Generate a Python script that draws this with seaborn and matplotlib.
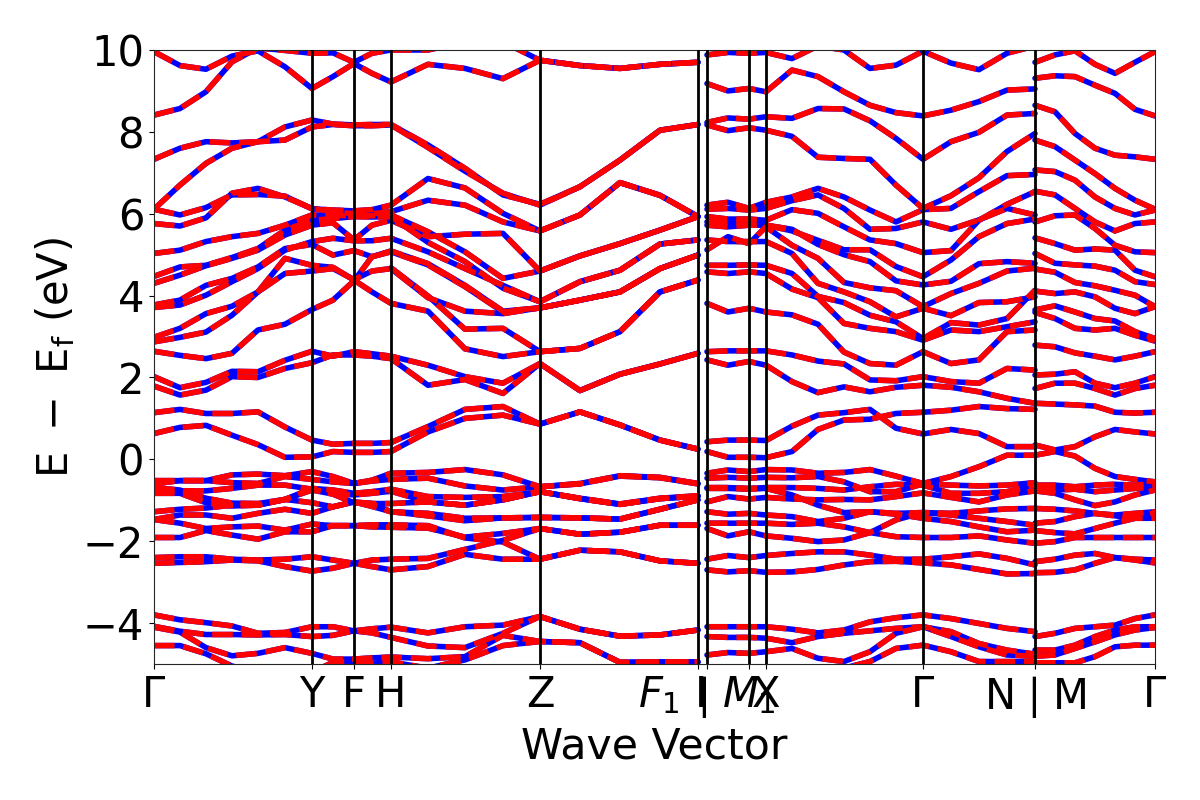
import seaborn as sns
import matplotlib.pyplot as plt
import matplotlib.transforms as mtrans
import pandas as pd

sns.set_style("ticks")
plt.rcParams['font.family'] = ['DejaVu Sans']

# k distance along the path, three broken pieces
k1 = [0,26,52,78,104,131,158,179,200,218,237,274,311,349,386,426,466,506,544]
k2 = [553,574,595,612,638,664,690,716,742,769,797,825,853,881]
k3 = [881,901,921,941,961,981,1001]

tick_pos = [0,158,200,237,386,544,553,595,612,769,881,1001]
tick_names = [r"$\mathrm{\Gamma}$","Y","F","H","Z",r"$F_1$ I",r"$\mid$",r"$M_1$","X",r"$\mathrm{\Gamma}$",r"N$\mid$M",r"$\mathrm{\Gamma}$"]

N = None
bands1 = [
 [-3.80,-3.92,-3.99,-4.07,-4.25,-4.23,-4.09,-4.09,-4.19,-4.14,-4.10,-4.24,-4.09,-4.05,-3.84,-4.15,-4.32,-4.29,-4.17],
 [-4.08,-4.20,-4.28,-4.28,-4.29,-4.28,-4.33,-4.30,-4.19,-4.24,-4.35,-4.56,-4.60,-4.25,-3.84,-4.15,-4.32,-4.29,-4.17],
 [-4.10,-4.22,-4.60,-4.80,-4.74,-4.60,-4.74,-4.88,-4.88,-4.85,-4.83,-4.87,-4.82,-4.30,-4.45,-4.48,-4.96,-4.95,-4.95],
 [-4.55,-4.55,-4.75,-5.05,-5.20,-5.20,-5.20,-4.96,-4.94,-4.98,-4.95,-5.10,-4.90,-4.55,-4.45,-4.48,-4.96,-4.95,-4.95],
 [-2.40,-2.38,-2.38,-2.44,-2.46,-2.44,-2.38,-2.46,-2.54,-2.46,-2.44,-2.42,-2.20,-1.98,-1.69,-1.83,-1.78,-1.61,-1.61],
 [-2.54,-2.52,-2.50,-2.46,-2.48,-2.62,-2.73,-2.66,-2.54,-2.62,-2.70,-2.62,-2.32,-2.44,-2.44,-2.22,-2.26,-2.48,-2.54],
 [-0.52,-0.52,-0.52,-0.38,-0.36,-0.40,-0.30,-0.42,-0.59,-0.51,-0.34,-0.32,-0.25,-0.38,-0.67,-0.59,-0.40,-0.44,-0.59],
 [-0.60,-0.52,-0.52,-0.57,-0.59,-0.42,-0.49,-0.55,-0.59,-0.53,-0.49,-0.46,-0.65,-0.75,-0.67,-0.60,-0.41,-0.45,-0.60],
 [-0.69,-0.75,-0.95,-1.07,-1.08,-0.98,-0.71,-0.75,-0.83,-0.79,-0.73,-0.91,-0.93,-0.91,-0.79,-0.95,-1.09,-0.95,-0.89],
 [-0.77,-0.77,-0.77,-0.71,-0.63,-0.63,-0.73,-0.83,-0.87,-0.83,-0.78,-1.04,-1.12,-0.99,-0.79,-0.96,-1.10,-0.96,-0.90],
 [-0.83,-0.83,-1.06,-1.14,-1.12,-0.98,-1.06,-1.16,-1.04,-1.08,-1.28,-1.32,-1.44,-1.43,-1.42,-1.43,-1.46,-1.22,-0.99],
 [-1.28,-1.22,-1.19,-1.12,-1.12,-0.98,-0.75,-0.85,-1.06,-1.08,-1.08,-1.04,-1.12,-0.99,-0.79,-0.96,-1.10,-0.96,-0.90],
 [-1.47,-1.36,-1.36,-1.44,-1.32,-1.22,-1.32,-1.16,-1.04,-1.15,-1.28,-1.38,-1.50,-1.43,-1.42,-1.43,-1.46,-1.22,-0.99],
 [-1.47,-1.56,-1.69,-1.65,-1.63,-1.73,-1.58,-1.62,-1.62,-1.60,-1.60,-1.62,-1.92,-2.02,-2.44,-2.22,-2.26,-2.48,-2.54],
 [-1.91,-1.91,-1.74,-1.85,-1.95,-1.77,-1.77,-1.62,-1.62,-1.65,-1.66,-1.68,-1.90,-1.81,-1.69,-1.83,-1.78,-1.61,-1.61],
 [0.63,0.78,0.83,0.59,0.36,0.05,0.06,0.19,0.17,0.17,0.19,0.67,1.00,1.08,0.86,1.16,0.84,0.47,0.25],
 [1.14,1.22,1.12,1.12,1.16,0.79,0.47,0.37,0.39,0.39,0.41,0.80,1.22,1.29,0.86,1.16,0.84,0.47,0.25],
 [1.79,1.57,1.69,2.02,2.00,2.22,2.36,2.55,2.55,2.52,2.46,1.81,1.95,1.61,2.34,1.68,2.08,2.33,2.59],
 [2.02,1.75,1.88,2.15,2.14,2.42,2.64,2.52,2.63,2.58,2.52,2.30,2.02,1.86,2.34,1.68,2.08,2.33,2.59],
 [2.64,2.54,2.46,2.59,3.16,3.30,3.66,3.89,4.36,4.95,5.09,4.78,4.25,3.62,3.70,3.89,4.09,4.66,4.99],
 [2.87,2.98,3.11,3.52,4.09,4.91,4.74,4.69,4.38,4.09,3.81,3.62,2.70,2.51,2.63,2.71,3.12,4.09,4.38],
 [2.98,3.20,3.56,3.74,4.09,4.54,4.60,4.66,4.39,4.60,4.66,3.95,3.62,3.56,3.70,3.89,4.09,4.66,4.99],
 [N,N,N,N,N,N,N,N,N,N,4.68,3.99,3.18,3.20,2.63,2.71,3.12,4.09,4.38],
 [3.71,3.77,4.01,4.34,4.66,5.11,5.32,5.40,5.34,5.34,5.40,5.07,4.66,4.25,3.85,4.34,4.62,5.26,5.36],
 [3.77,3.89,4.25,4.42,4.70,5.15,5.25,4.99,5.10,4.95,5.07,4.75,4.22,3.60,3.70,3.89,4.09,4.66,4.99],
 [4.30,4.50,4.73,4.91,5.11,5.48,5.72,5.78,5.36,5.72,5.84,5.44,5.50,5.52,4.60,4.97,5.27,5.60,5.93],
 [4.47,4.70,4.74,4.93,5.15,5.60,5.84,5.88,5.93,5.92,5.93,5.30,4.83,4.18,3.85,4.34,4.62,5.26,5.36],
 [5.03,5.11,5.32,5.44,5.52,5.72,5.97,5.96,5.95,5.95,5.97,5.56,5.07,4.42,4.60,4.97,5.27,5.60,5.93],
 [5.76,5.70,5.90,6.50,6.62,6.41,6.13,6.05,6.00,6.00,6.05,6.33,6.21,5.80,5.58,5.97,6.76,6.45,5.93],
 [6.11,5.97,6.15,6.46,6.47,6.43,6.12,6.09,6.07,6.10,6.21,6.86,6.63,6.01,5.58,5.97,6.76,6.45,5.93],
 [7.33,7.60,7.76,7.73,7.76,8.12,8.29,8.19,8.17,8.18,8.18,7.68,7.11,6.46,6.23,6.66,7.31,8.04,8.18],
 [6.11,6.70,7.23,7.60,7.76,7.80,8.12,8.18,8.15,8.15,8.17,7.62,7.04,6.50,6.21,6.66,7.31,8.04,8.18],
 [8.41,8.57,8.98,9.71,10.05,9.99,9.92,9.93,9.70,9.92,10.0,10.0,10.2,10.2,9.75,9.62,9.55,9.65,9.70],
 [9.96,9.62,9.53,9.85,9.98,9.59,9.06,9.35,9.67,9.43,9.22,9.65,9.55,9.30,9.75,9.62,9.55,9.65,9.70],
]

bands2 = [
 [9.88,9.94,9.92,9.94,9.79,10.1,10.0,9.55,9.63,9.97,9.68,9.52,9.92,10.1],
 [9.18,9.00,9.06,8.98,9.51,9.35,8.98,8.65,8.47,8.39,8.53,8.74,9.02,9.05],
 [8.23,8.34,8.31,8.37,8.33,8.57,8.56,8.27,7.84,7.33,7.76,7.99,8.41,8.45],
 [8.17,8.03,8.10,8.04,7.89,7.38,7.35,7.33,6.70,6.13,6.44,6.88,7.52,7.96],
 [6.21,6.28,6.13,6.28,6.41,6.62,6.41,6.09,5.80,6.10,6.13,6.54,6.93,6.96],
 [6.11,6.13,6.09,6.13,6.32,6.46,6.13,5.62,5.64,5.80,5.62,5.85,6.13,5.97],
 [5.93,5.87,5.87,5.84,6.10,6.01,5.68,5.36,5.27,5.05,5.10,5.84,6.23,6.54],
 [5.80,5.76,5.84,5.72,5.58,5.35,5.12,5.12,4.71,4.46,4.87,5.44,5.76,5.87],
 [5.72,5.68,5.72,5.72,5.62,5.25,5.00,4.83,4.36,4.26,4.35,4.78,4.83,4.79],
 [5.12,5.44,5.27,5.68,5.23,4.91,4.32,4.19,4.12,3.73,4.05,4.30,4.60,4.67],
 [5.36,5.32,5.32,5.32,5.03,4.30,4.09,3.85,3.48,3.69,3.51,3.83,3.85,3.97],
 [4.74,4.74,4.75,4.74,4.54,3.98,3.83,3.52,3.36,2.95,3.34,3.28,3.44,4.13],
 [4.58,4.54,4.58,4.54,4.16,3.95,3.32,3.20,3.12,2.91,3.16,3.12,3.24,3.36],
 [3.81,3.60,3.69,3.60,3.53,3.30,2.62,2.34,2.30,2.63,2.34,2.43,3.12,3.16],
 [2.63,2.65,2.65,2.65,2.55,2.40,2.33,1.94,1.92,2.02,1.90,1.86,2.22,2.18],
 [2.43,2.30,2.39,2.30,1.90,1.63,1.77,1.65,1.76,1.81,1.76,1.65,1.49,1.37],
 [0.43,0.47,0.47,0.46,0.81,1.08,1.14,1.22,0.76,0.62,0.73,0.63,0.31,0.31],
 [0.19,0.05,0.05,0.04,0.19,0.73,0.96,0.98,1.12,1.15,1.20,1.29,1.24,1.22],
 [-0.34,-0.26,-0.30,-0.25,-0.26,-0.34,-0.32,-0.25,-0.41,-0.59,-0.42,-0.18,0.10,0.10],
 [-0.46,-0.44,-0.46,-0.44,-0.45,-0.42,-0.55,-0.79,-0.79,-0.60,-0.63,-0.65,-0.63,-0.57],
 [-0.69,-0.69,-0.71,-0.69,-0.69,-0.71,-0.75,-0.67,-0.61,-0.63,-0.83,-0.83,-0.79,-0.63],
 [-0.71,-0.71,-0.73,-0.71,-0.87,-1.12,-1.30,-1.28,-1.32,-1.30,-1.32,-1.26,-1.21,-1.20],
 [-1.04,-0.91,-0.97,-0.93,-0.97,-0.99,-0.98,-0.99,-0.91,-0.82,-0.93,-1.04,-0.87,-0.77],
 [-1.28,-1.34,-1.32,-1.36,-1.40,-1.52,-1.44,-1.28,-1.34,-1.44,-1.52,-1.65,-1.77,-1.73],
 [-1.56,-1.56,-1.56,-1.56,-1.59,-1.56,-1.65,-1.79,-1.48,-1.30,-1.36,-1.44,-1.52,-1.61],
 [-1.69,-1.87,-1.77,-1.87,-1.93,-2.01,-1.97,-1.79,-1.89,-1.91,-1.91,-1.87,-1.97,-2.05],
 [-2.44,-2.35,-2.40,-2.35,-2.30,-2.26,-2.26,-2.34,-2.44,-2.44,-2.38,-2.31,-2.42,-2.58],
 [-2.70,-2.75,-2.72,-2.76,-2.75,-2.69,-2.58,-2.50,-2.49,-2.53,-2.58,-2.69,-2.80,-2.79],
 [-4.09,-4.09,-4.09,-4.09,-4.15,-4.24,-4.17,-3.97,-3.87,-3.80,-3.89,-4.01,-4.13,-4.21],
 [-4.33,-4.35,-4.35,-4.37,-4.48,-4.33,-4.25,-4.19,-4.13,-4.09,-4.21,-4.50,-4.66,-4.76],
 [-4.78,-4.72,-4.74,-4.70,-4.62,-4.86,-4.94,-4.70,-4.25,-4.09,-4.33,-4.58,-4.78,-4.81],
 [-5.20,-5.20,-5.20,-5.20,-5.20,-5.20,-5.10,-4.94,-4.62,-4.54,-4.70,-4.94,-4.94,-4.94],
]

bands3 = [
 [9.70,9.88,9.98,9.65,9.43,9.70,9.96],
 [9.31,9.37,9.35,9.14,8.94,8.55,8.39],
 [8.65,8.49,7.96,7.60,7.43,7.39,7.33],
 [7.80,7.64,7.31,6.98,6.62,6.33,6.11],
 [7.07,7.03,6.82,6.41,6.13,5.97,6.09],
 [6.55,6.46,6.13,5.80,5.58,5.76,5.80],
 [5.80,5.95,5.97,5.64,5.23,5.07,5.05],
 [5.41,5.27,5.11,5.14,5.11,4.62,4.46],
 [5.03,4.79,4.75,4.72,4.62,4.34,4.27],
 [4.65,4.57,4.32,4.24,4.13,4.01,3.73],
 [4.11,4.05,4.09,3.97,3.69,3.56,3.73],
 [3.65,3.75,3.60,3.44,3.38,3.12,2.95],
 [3.59,3.44,3.20,3.16,3.20,3.03,2.89],
 [2.79,2.75,2.60,2.52,2.43,2.52,2.63],
 [2.06,2.08,2.14,1.86,1.75,1.86,2.02],
 [1.73,1.86,1.86,1.73,1.57,1.73,1.81],
 [1.37,1.35,1.33,1.30,1.15,1.13,1.15],
 [0.35,0.23,0.31,0.55,0.73,0.67,0.62],
 [0.10,0.19,0.08,-0.22,-0.42,-0.49,-0.55],
 [-0.63,-0.63,-0.67,-0.63,-0.61,-0.63,-0.59],
 [-0.73,-0.75,-0.73,-0.79,-0.75,-0.71,-0.67],
 [-0.77,-0.83,-0.99,-1.13,-1.04,-0.87,-0.75],
 [-1.20,-1.22,-1.26,-1.32,-1.36,-1.32,-1.28],
 [-1.56,-1.52,-1.40,-1.32,-1.38,-1.44,-1.44],
 [-1.74,-1.79,-1.82,-1.69,-1.56,-1.44,-1.30],
 [-2.05,-2.01,-1.91,-1.91,-1.91,-1.91,-1.91],
 [-2.50,-2.44,-2.34,-2.30,-2.40,-2.44,-2.46],
 [-2.77,-2.76,-2.70,-2.54,-2.40,-2.46,-2.53],
 [-4.33,-4.25,-4.13,-4.09,-4.05,-3.89,-3.80],
 [-4.66,-4.66,-4.54,-4.33,-4.17,-4.09,-4.09],
 [-4.81,-4.78,-4.62,-4.46,-4.29,-4.17,-4.11],
 [-4.97,-4.97,-4.97,-4.82,-4.58,-4.54,-4.54],
]

rows = []
for seg, k, bands in [("a",k1,bands1),("b",k2,bands2),("c",k3,bands3)]:
    for i, b in enumerate(bands):
        d = pd.DataFrame({"k":k,"e":b})
        d["band"] = seg+str(i)
        rows.append(d)
df = pd.concat(rows).dropna()

fig, ax = plt.subplots(figsize=(12,8), dpi=100)
fig.subplots_adjust(left=0.1283, right=0.9625, top=0.9375, bottom=0.17)

sns.lineplot(data=df, x="k", y="e", units="band", estimator=None, color="blue", lw=4, legend=False, ax=ax)
sns.lineplot(data=df, x="k", y="e", units="band", estimator=None, color="red", lw=4, linestyle="--", legend=False, ax=ax)

for p in tick_pos[1:-1]:
    ax.axvline(p, color="k", lw=2, zorder=5)

ax.set_xlim(0,1001)
ax.set_ylim(-5,10)
ax.set_xticks(tick_pos)
ax.set_xticklabels(tick_names)
ax.set_yticks(range(-4,11,2))
ax.tick_params(labelsize=30)
ax.tick_params(axis="both", color="k", labelcolor="k")

# the two labels at the break sit off their ticks in the original
labs = ax.get_xticklabels()
labs[5].set_ha("right")
labs[5].set_transform(labs[5].get_transform() + mtrans.ScaledTranslation(7/100, 0, fig.dpi_scale_trans))
labs[6].set_transform(labs[6].get_transform() + mtrans.ScaledTranslation(-11/100, 0, fig.dpi_scale_trans))

ax.set_xlabel("Wave Vector", fontsize=30.7, color="k")
ax.set_ylabel(r"$\mathrm{E\ -\ E_f\ (eV)}$", fontsize=30, color="k")

fig.savefig("out.png", dpi=100)
